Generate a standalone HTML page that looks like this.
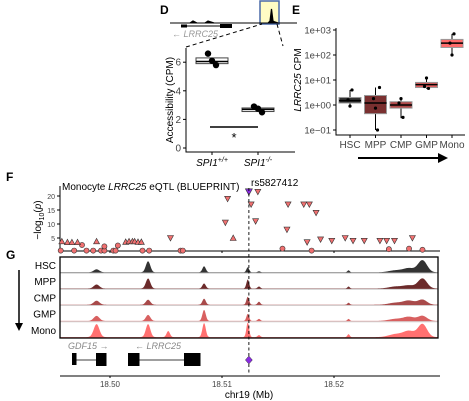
<!DOCTYPE html>
<html><head><meta charset="utf-8"><style>
body{margin:0;background:#fff;}
svg{display:block;font-family:"Liberation Sans",sans-serif;}
</style></head><body>
<svg id="fig" width="469" height="401" viewBox="0 0 469 401" xmlns="http://www.w3.org/2000/svg">
<g id="pD"></g>
<g id="pE"></g>
<g id="pF"></g>
<g id="pG"></g>
</svg>
<script>
// ---- Panel D data
const dGroups=["SPI1+/+","SPI1-/-"];
const dBoxLo=[5.9,2.55], dBoxMed=[6.05,2.7], dBoxHi=[6.3,2.8];
const dPoints=[[6.6,6.1,5.8],[2.9,2.75,2.5]];
const dTicks=[0,2,4,6];
// ---- Panel E data
const eCats=["HSC","MPP","CMP","GMP","Mono"];
const eQ1=[1.2,0.45,0.75,5,200], eMed=[1.5,1.2,1.0,6.5,300], eQ3=[2.0,2.4,1.35,8,420];
const eWLo=[0.9,0.1,0.3,4.5,100], eWHi=[4,5,1.8,12,700];
const ePts=[[1.6,0.9,4],[1.8,0.75,0.1,5],[1.2,1.8,0.32],[5.5,12,4.6],[300,100,700]];
const eTicks=[-1,0,1,2,3];
const eColors=["#333333","#7a3030","#b04848","#e06060","#ff6b6b"];
// ---- Panel F data (positions in kb on chr19, -log10 p)
const fCirclePos=[18495.6,18496.8,18497.9,18498.5,18499.2,18499.5,18500.3,18500.5,18502.9,18503.5,18506.3,18506.5,18515.4,18518.0,18524.9,18526.7,18527.9,18497.5,18499.5,18500.7];
const fCircleP=[0.5,0.5,0.5,0.5,0.5,0.5,0.5,0.5,0.5,0.5,0.5,0.5,1.2,0.5,1,1.2,0.8,2.5,2,2.3];
const fUpPos=[18495.7,18496.2,18496.6,18497.1,18498.8,18501.4,18501.7,18502.0,18502.2,18502.5,18502.8,18511.0];
const fUpP=[3.8,3.5,3.5,3.5,3.8,3.6,3.8,3.8,3.8,3.6,3.6,5];
const fDownPos=[18505.4,18510.5,18510.3,18513.2,18512.6,18513.0,18515.9,18517.3,18517.8,18518.4,18515.8,18517.6,18518.8,18519.8,18521.0,18521.7,18522.7,18524.1,18524.7,18525.4,18527.0];
const fDownP=[5,19,10.5,21.5,17,11,17,17,17,14,8,3.5,4.5,4,5,4,4,4,4,4,5];
const fLeadPos=[18512.4], fLeadP=[21.5];
const fYTicks=[5,10,15,20];
const gXTicks=[18500,18510,18520];
// ---- Panel G data
const gTracks=["HSC","MPP","CMP","GMP","Mono"];
const gPeakPos=[18498.8,18503.4,18508.4,18512.3,18513.3,18521.3,18525.5,18526.7,18527.9,18505.2];
const gPeakW=[0.25,0.2,0.15,0.12,0.12,0.1,0.6,0.5,0.4,0.15];
const gHeights=[
 [3,11,6,5,1,2,2,4,12,0],
 [4,10,5,9,2,2,2,3,10,0],
 [4,5,6,8,3,2,2,4,5,0],
 [5,6,11,7,2,2,2,4,5,0],
 [13,13,14,15,2,3,3,6,13,6]];
const gColors=["#333333","#6b2a2a","#a84a4a","#d86060","#ff7070"];

const NS="http://www.w3.org/2000/svg";
function mk(parent,tag,attrs,text){const e=document.createElementNS(NS,tag);for(const k in attrs)e.setAttribute(k,attrs[k]);if(text!==undefined)e.textContent=text;parent.appendChild(e);return e;}
function tsp(parent,txt,attrs){const s=mk(parent,'tspan',attrs||{},txt);return s;}

// ===== Panel D
const D=document.getElementById('pD');
let t=mk(D,'text',{x:160,y:14,'font-size':12,'font-weight':'bold'},'D');


let r=mk(D,'rect',{x:260,y:1,width:19,height:23,fill:'#fffcc4',stroke:'#4a6aa8','stroke-width':1.5});


mk(D,'path',{d:'M170 23 L297 23',stroke:'#000','stroke-width':1});
mk(D,'path',{d:'M190 23 l3 -2 l4 2 M205 23 l3 -2 l6 2 M268 23 l2 -2 l1.5 -12 l1.5 12 l2 1 l3 1',stroke:'#000','stroke-width':1.2,fill:'#000'});
let gm=mk(D,'path',{d:'M181 26 L187 26 M187 26 L222 26 M220 26 L232 26',stroke:'#000','stroke-width':1});
mk(D,'rect',{x:181,y:24.5,width:6,height:3,fill:'#000'});
mk(D,'rect',{x:220,y:24,width:12,height:4,fill:'#000'});


t=mk(D,'text',{x:172,y:37,'font-size':9,'font-style':'italic',fill:'#999'},'← LRRC25');


mk(D,'path',{d:'M186 47 L262 24 M277 24 L283 46',stroke:'#000','stroke-dasharray':'4,3','stroke-width':1,fill:'none'});
const dY=v=>148-v*14.3, dX=i=>212+i*46;
mk(D,'path',{d:'M186 48 L186 152 L295 152',stroke:'#000',fill:'none'});
dTicks.forEach(v=>{mk(D,'path',{d:`M183 ${dY(v)} L186 ${dY(v)}`,stroke:'#000'});
 const tt=mk(D,'text',{x:181,y:dY(v)+3.5,'font-size':10,'text-anchor':'end',fill:'#444'},String(v));
 
 });
t=mk(D,'text',{x:0,y:0,'font-size':10,'text-anchor':'middle',transform:'translate(173,100) rotate(-90)'},'Accessibility (CPM)');


dGroups.forEach((g,i)=>{const cx=dX(i);
 const b=mk(D,'rect',{x:cx-16,y:dY(dBoxHi[i]),width:32,height:dY(dBoxLo[i])-dY(dBoxHi[i]),fill:'#fff',stroke:'#444'});
 
 
 mk(D,'path',{d:`M${cx-16} ${dY(dBoxMed[i])} L${cx+16} ${dY(dBoxMed[i])}`,stroke:'#000','stroke-width':1.5});
 dPoints[i].forEach((v,j)=>{const c=mk(D,'circle',{cx:cx-4+j*4,cy:dY(v),r:3.2,fill:'#000'});
  
  });
 mk(D,'path',{d:`M${cx} 152 L${cx} 155`,stroke:'#000'});
});
t=mk(D,'text',{x:212,y:166,'font-size':10,'text-anchor':'middle','font-style':'italic'});
tsp(t,'SPI1');tsp(t,'+/+',{'font-size':7,dy:-4});


t=mk(D,'text',{x:258,y:166,'font-size':10,'text-anchor':'middle','font-style':'italic'});
tsp(t,'SPI1');tsp(t,'-/-',{'font-size':7,dy:-4});


mk(D,'path',{d:'M210 127 L258 127',stroke:'#000','stroke-width':1.5});
t=mk(D,'text',{x:234,y:142,'font-size':13,'text-anchor':'middle'},'*');



// ===== Panel E
const E=document.getElementById('pE');
t=mk(E,'text',{x:292,y:14,'font-size':12,'font-weight':'bold'},'E');


const eY=v=>105-Math.log10(v)*25, eX=i=>350+i*25.5;
mk(E,'path',{d:'M336 28 L336 135 L465 135',stroke:'#000',fill:'none'});
eTicks.forEach(p=>{const y=105-p*25;mk(E,'path',{d:`M333 ${y} L336 ${y}`,stroke:'#000'});
 const tt=mk(E,'text',{x:331,y:y+3.5,'font-size':9.5,'text-anchor':'end',fill:'#444'},'1e'+(p<0?'\u2212':'+')+'0'+Math.abs(p));
 
 });
t=mk(E,'text',{x:0,y:0,'font-size':10,'text-anchor':'middle',transform:'translate(301,80) rotate(-90)'});
tsp(t,'LRRC25',{'font-style':'italic'});tsp(t,' CPM');


eCats.forEach((c,i)=>{const cx=eX(i);
 mk(E,'path',{d:`M${cx} ${eY(eWHi[i])} L${cx} ${eY(eWLo[i])}`,stroke:'#000'});
 const b=mk(E,'rect',{x:cx-11,y:eY(eQ3[i]),width:22,height:eY(eQ1[i])-eY(eQ3[i]),fill:eColors[i],stroke:'#999'});
 
 
 mk(E,'path',{d:`M${cx-11} ${eY(eMed[i])} L${cx+11} ${eY(eMed[i])}`,stroke:'#000','stroke-width':1.5});
 ePts[i].forEach((v,j)=>{const p=mk(E,'circle',{cx:cx-2+j*2,cy:eY(v),r:1.6,fill:'#000'});
  
  });
 mk(E,'path',{d:`M${cx} 135 L${cx} 138`,stroke:'#000'});
 const tt=mk(E,'text',{x:cx,y:148,'font-size':10,'text-anchor':'middle',fill:'#444'},c);
 
 
});
let ar=mk(E,'path',{d:'M358 158 L440 158',stroke:'#000','stroke-width':2});
mk(E,'path',{d:'M438 153 L448 158 L438 163 Z',fill:'#000'});



// ===== Panel F
const F=document.getElementById('pF');
const gx=kb=>110+(kb-18500)*11.2, fY=v=>252-v*2.8;
t=mk(F,'text',{x:6,y:181,'font-size':12,'font-weight':'bold'},'F');


mk(F,'path',{d:'M60 186 L60 251 L440 251',stroke:'#000',fill:'none'});
fYTicks.forEach(v=>{mk(F,'path',{d:`M57 ${fY(v)} L60 ${fY(v)}`,stroke:'#000'});
 const tt=mk(F,'text',{x:55,y:fY(v)+3,'font-size':7,'text-anchor':'end',fill:'#444'},String(v));
 
 });
gXTicks.forEach(v=>mk(F,'path',{d:`M${gx(v)} 251 L${gx(v)} 253`,stroke:'#000'}));
t=mk(F,'text',{x:0,y:0,'font-size':10,'text-anchor':'middle',transform:'translate(41,220) rotate(-90)'});
tsp(t,'\u2212log');tsp(t,'10',{'font-size':7,dy:3});tsp(t,'(',{dy:-3});tsp(t,'p',{'font-style':'italic'});tsp(t,')');


t=mk(F,'text',{x:62,y:190,'font-size':10});
tsp(t,'Monocyte ');tsp(t,'LRRC25',{'font-style':'italic'});tsp(t,' eQTL (BLUEPRINT)');


t=mk(F,'text',{x:251,y:186,'font-size':10},'rs5827412');


fCirclePos.forEach((p,i)=>{const c=mk(F,'circle',{cx:gx(p),cy:fY(fCircleP[i]),r:2.6,fill:'#f07070',stroke:'#333','stroke-width':0.6});
 
 });
fUpPos.forEach((p,i)=>{const x=gx(p),y=fY(fUpP[i]);const c=mk(F,'path',{d:`M${x-3} ${y+2.5} L${x+3} ${y+2.5} L${x} ${y-3} Z`,fill:'#f07070',stroke:'#333','stroke-width':0.6});
 
 });
fDownPos.forEach((p,i)=>{const x=gx(p),y=fY(fDownP[i]);const c=mk(F,'path',{d:`M${x-3} ${y-2.5} L${x+3} ${y-2.5} L${x} ${y+3} Z`,fill:'#f07070',stroke:'#333','stroke-width':0.6});
 
 });
fLeadPos.forEach((p,i)=>{const x=gx(p),y=fY(fLeadP[i]);const c=mk(F,'path',{d:`M${x-3.5} ${y-3} L${x+3.5} ${y-3} L${x} ${y+3.5} Z`,fill:'#8a2be2',stroke:'#333','stroke-width':0.6});
 
 });

// ===== Panel G
const G=document.getElementById('pG');
t=mk(G,'text',{x:6,y:259,'font-size':12,'font-weight':'bold'},'G');


const rowH=16.2, trackTop=257;
gTracks.forEach((n,ti)=>{const base=trackTop+rowH*(ti+1)-0.5;
 let d=`M60 ${base}`;
 for(let x=60;x<=438;x+=0.5){const kb=18500+(x-110)/11.2;let h=0.4;
  gPeakPos.forEach((p,k)=>{const z=(kb-p)/gPeakW[k];h+=gHeights[ti][k]*Math.exp(-z*z/2);});
  h=Math.min(h,rowH-1.5);d+=` L${x} ${base-h}`;}
 d+=` L438 ${base} Z`;
 const pa=mk(G,'path',{d:d,fill:gColors[ti]});
 
 
 if(ti<4)mk(G,'path',{d:`M60 ${base+0.5} L438 ${base+0.5}`,stroke:'#ccc','stroke-width':0.8});
 const tt=mk(G,'text',{x:56,y:trackTop+rowH*ti+12,'font-size':10,'text-anchor':'end'},n);
 
 
});
r=mk(G,'rect',{x:60,y:257,width:378,height:81,fill:'none',stroke:'#000','stroke-width':1.3});


ar=mk(G,'path',{d:'M19 270 L19 323',stroke:'#000','stroke-width':1.5});
mk(G,'path',{d:'M15 323 L23 323 L19 331 Z',fill:'#000'});


const lx=gx(fLeadPos[0]);
let dl=mk(G,'path',{d:`M${lx} 188 L${lx} 373`,stroke:'#000','stroke-dasharray':'3,2.5','stroke-width':0.9});


mk(G,'path',{d:'M74 360 L102 360 M133 360 L190 360',stroke:'#000','stroke-width':0.8});
[[72,4.5],[96,10.5],[128,11.5],[184,16.5]].forEach(([x,w])=>{const e=mk(G,'rect',{x:x,y:353,width:w,height:(x==72?12:13),fill:'#000'});
 
 });
t=mk(G,'text',{x:68,y:349,'font-size':9,'font-style':'italic',fill:'#888'},'GDF15 →');


t=mk(G,'text',{x:135,y:349,'font-size':9,'font-style':'italic',fill:'#888'},'← LRRC25');


let dm=mk(G,'path',{d:`M${lx} 356 L${lx+3.5} 360 L${lx} 364 L${lx-3.5} 360 Z`,fill:'#8a2be2',stroke:'#333','stroke-width':0.5});


mk(G,'path',{d:'M60 376 L440 376',stroke:'#000'});
gXTicks.forEach(v=>{mk(G,'path',{d:`M${gx(v)} 376 L${gx(v)} 378`,stroke:'#000'});
 const tt=mk(G,'text',{x:gx(v),y:387,'font-size':8,'text-anchor':'middle',fill:'#444'},(v/1000).toFixed(2));
 
 });
t=mk(G,'text',{x:249,y:398,'font-size':10,'text-anchor':'middle'},'chr19 (Mb)');


</script>
</body></html>
